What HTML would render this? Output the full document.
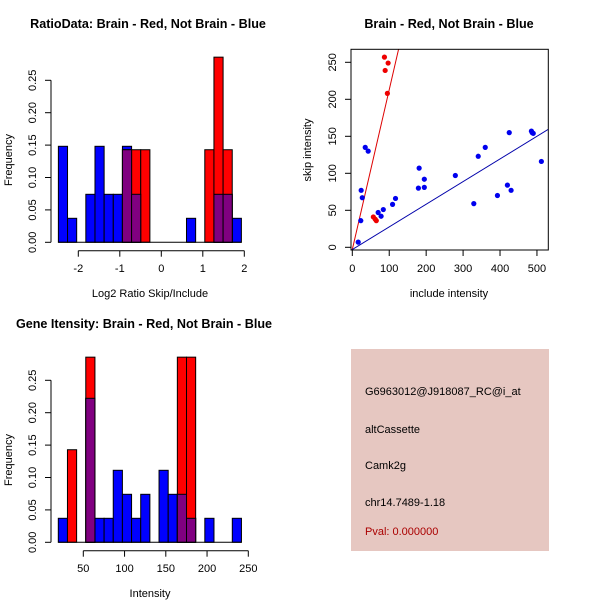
<!DOCTYPE html>
<html><head><meta charset="utf-8"><style>
html,body{margin:0;padding:0;background:#fff;}
svg{display:block;font-family:"Liberation Sans",sans-serif;}
</style></head><body>
<svg id="s" width="600" height="600" viewBox="0 0 600 600">
<rect width="600" height="600" fill="#fff"/>
</svg>
<script>
// Top-left histogram data (frequencies per bin)
const ratioBinStart = -2.48;
const ratioBinWidth = 0.2205;
const ratioBlue = [4,1,0,2,4,2,2,4,2,0,0,0,0,0,1,0,0,2,2,1].map(c=>c/27);
const ratioRed = [0,0,0,0,0,0,0,1,1,1,0,0,0,0,0,0,1,2,1,0].map(c=>c/7);
const ratioXTicks = [-2,-1,0,1,2];
// Bottom-left histogram
const intBinStart = 19.7;
const intBinWidth = 11.1;
const intBlue = [1,0,0,6,1,1,3,2,1,2,0,3,2,2,1,0,1,0,0,1].map(c=>c/27);
const intRed = [0,1,0,2,0,0,0,0,0,0,0,0,0,2,2,0,0,0,0,0].map(c=>c/7);
const intXTicks = [50,100,150,200,250];
const freqTicks = [0,0.05,0.10,0.15,0.20,0.25];
const freqTickLabels = ["0.00","0.05","0.10","0.15","0.20","0.25"];
// Scatter
const blueInc = [16,23,24,27,35,43,70,78,84,109,117,179,181,195,195,279,329,341,360,393,420,425,430,485,490,512,487];
const blueSkip = [7,36,77,67,135,130,47,42,51,58,66,80,107,92,81,97,59,123,135,70,84,155,77,157,154,116,155];
const redInc = [87,97,89,95,57,65,62];
const redSkip = [257,249,239,208,41,36,38];
const redLine = [-3,2.16];
const blueLine = [-3,0.306];
const scXTicks = [0,100,200,300,400,500];
const scYTicks = [0,50,100,150,200,250];

const NS="http://www.w3.org/2000/svg";
const svg=document.getElementById('s');
function el(tag,attrs,parent){const e=document.createElementNS(NS,tag);for(const k in attrs)e.setAttribute(k,attrs[k]);(parent||svg).appendChild(e);return e;}
function txt(x,y,s,size,opts,parent){opts=opts||{};const t=el('text',{x:x,y:y,'font-size':size,'text-anchor':opts.anchor||'middle','dominant-baseline':'central',fill:opts.fill||'#000','font-weight':opts.bold?'bold':'normal'},parent);if(opts.rot)t.setAttribute('transform','rotate(-90 '+x+' '+y+')');t.textContent=s;return t;}

function hist(oy,binStart,binW,blue,red,xticks,xs,title,titleX,xlabel){
  const g=el('g',{});
  
  
  const ys=v=>oy+242.3-v*648;
  for(let i=0;i<blue.length;i++){
    const x0=xs(binStart+i*binW),x1=xs(binStart+(i+1)*binW);
    if(blue[i]>0){const r=el('rect',{x:x0,y:ys(blue[i]),width:x1-x0,height:ys(0)-ys(blue[i]),fill:'#0000ff',stroke:'#000','stroke-width':1},g);
      }
  }
  for(let i=0;i<red.length;i++){
    const x0=xs(binStart+i*binW),x1=xs(binStart+(i+1)*binW);
    if(red[i]>0){const r=el('rect',{x:x0,y:ys(red[i]),width:x1-x0,height:ys(0)-ys(red[i]),fill:'#ff0000',stroke:'#000','stroke-width':1},g);
      }
  }
  for(let i=0;i<red.length;i++){
    const m=Math.min(red[i],blue[i]);
    const x0=xs(binStart+i*binW),x1=xs(binStart+(i+1)*binW);
    if(m>0){const r=el('rect',{x:x0,y:ys(m),width:x1-x0,height:ys(0)-ys(m),fill:'#800080',stroke:'#000','stroke-width':1},g);
      }
  }
  el('line',{x1:xs(binStart),x2:xs(binStart+blue.length*binW),y1:ys(0),y2:ys(0),stroke:'#000'},g);
  el('line',{x1:51,x2:51,y1:ys(0),y2:ys(0.25),stroke:'#000'},g);
  freqTicks.forEach((v,i)=>{el('line',{x1:45,x2:51,y1:ys(v),y2:ys(v),stroke:'#000'},g);
    txt(33,ys(v),freqTickLabels[i],11,{rot:true},g);});
  const ay=oy+250.7;
  el('line',{x1:xs(xticks[0]),x2:xs(xticks[xticks.length-1]),y1:ay,y2:ay,stroke:'#000'},g);
  xticks.forEach(v=>{el('line',{x1:xs(v),x2:xs(v),y1:ay,y2:ay+6,stroke:'#000'},g);txt(xs(v),oy+269,String(v),11,{},g);});
  const t=txt(titleX,oy+24,title,12.6,{bold:true},g);
  const xl=txt(150,oy+294,xlabel,11,{},g);
  const yl=txt(9,oy+160,'Frequency',11,{rot:true},g);
}
hist(0,ratioBinStart,ratioBinWidth,ratioBlue,ratioRed,ratioXTicks,v=>161.3+v*41.5,'RatioData: Brain - Red, Not Brain - Blue',148,'Log2 Ratio Skip/Include');
hist(300,intBinStart,intBinWidth,intBlue,intRed,intXTicks,v=>83.3+(v-50)*0.825,'Gene Itensity: Brain - Red, Not Brain - Blue',144,'Intensity');

// Scatter
(function(){
  const g=el('g',{});
  
  
  const L=351,R=548.3,T=49.3,B=250;
  const xs=v=>352.3+v*0.3693, ys=v=>247.3-v*0.74;
  el('clipPath',{id:'cp'},g).appendChild((()=>{const r=document.createElementNS(NS,'rect');r.setAttribute('x',L);r.setAttribute('y',T);r.setAttribute('width',R-L);r.setAttribute('height',B-T);return r;})());
  const x0=-10,x1=600;
  const rl=el('line',{x1:xs(x0),y1:ys(redLine[0]+redLine[1]*x0),x2:xs(x1),y2:ys(redLine[0]+redLine[1]*x1),stroke:'#dd0000','clip-path':'url(#cp)'},g);
  
  const bl=el('line',{x1:xs(x0),y1:ys(blueLine[0]+blueLine[1]*x0),x2:xs(x1),y2:ys(blueLine[0]+blueLine[1]*x1),stroke:'#0000aa','clip-path':'url(#cp)'},g);
  
  for(let i=0;i<blueInc.length;i++){const c=el('circle',{cx:xs(blueInc[i]),cy:ys(blueSkip[i]),r:2.6,fill:'#0000ee'},g);
    }
  for(let i=0;i<redInc.length;i++){const c=el('circle',{cx:xs(redInc[i]),cy:ys(redSkip[i]),r:2.6,fill:'#ee0000'},g);
    }
  el('rect',{x:L,y:T,width:R-L,height:B-T,fill:'none',stroke:'#000'},g);
  scXTicks.forEach(v=>{el('line',{x1:xs(v),x2:xs(v),y1:B,y2:B+6,stroke:'#000'},g);txt(xs(v),269,String(v),11,{},g);});
  scYTicks.forEach(v=>{el('line',{x1:L-6,x2:L,y1:ys(v),y2:ys(v),stroke:'#000'},g);txt(333,ys(v),String(v),11,{rot:true},g);});
  const t=txt(449,24,'Brain - Red, Not Brain - Blue',12.6,{bold:true},g);
  const xl=txt(449,294,'include intensity',11,{},g);
  const yl=txt(308,150,'skip intensity',11,{rot:true},g);
})();

// Info box
(function(){
  const g=el('g',{});
  
  
  el('rect',{x:351,y:349,width:198,height:202,fill:'#e6c7c1'},g);
  const lines=[['G6963012@J918087_RC@i_at',392,'#000'],['altCassette',430,'#000'],['Camk2g',466,'#000'],['chr14.7489-1.18',503,'#000'],['Pval: 0.000000',532,'#aa0000']];
  lines.forEach(l=>{const t=txt(365,l[1],l[0],11,{anchor:'start',fill:l[2]},g);
    });
})();
</script>
</body></html>
